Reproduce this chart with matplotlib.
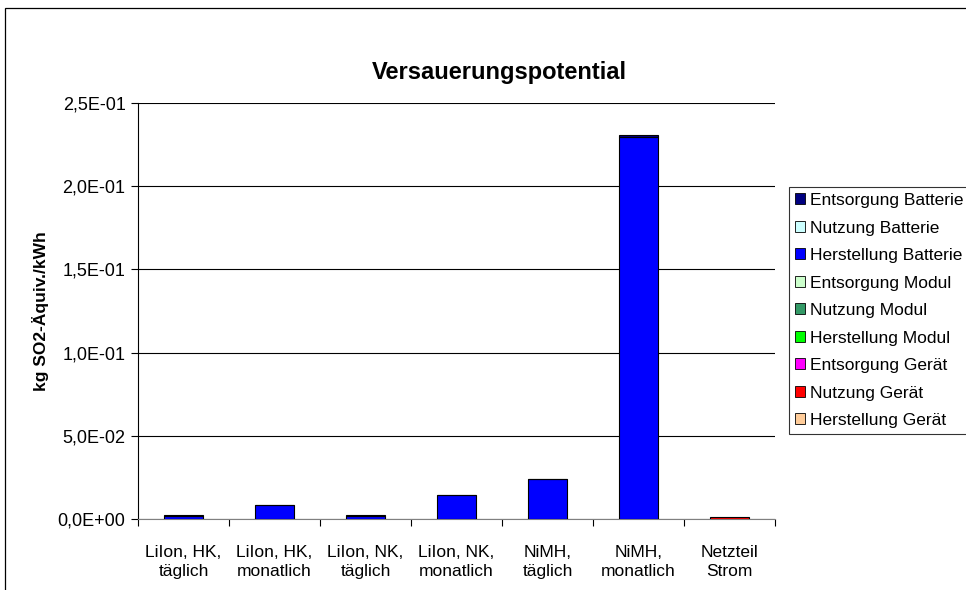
import matplotlib
matplotlib.use("Agg")
import matplotlib.pyplot as plt
from matplotlib.patches import Patch, Rectangle
from matplotlib.ticker import FuncFormatter, FixedLocator
import numpy as np

plt.rcParams['font.family'] = ['Liberation Sans', 'DejaVu Sans']

categories = ["LiIon, HK,\ntäglich", "LiIon, HK,\nmonatlich", "LiIon, NK,\ntäglich",
              "LiIon, NK,\nmonatlich", "NiMH,\ntäglich", "NiMH,\nmonatlich", "Netzteil\nStrom"]

# stacked bottom -> top
herstellung_geraet = [0, 0, 0, 0, 0, 0, 0]
nutzung_geraet = [0, 0, 0, 0, 0, 0, 0.0015]
entsorgung_geraet = [0, 0, 0, 0, 0, 0, 0]
herstellung_modul = [0, 0, 0, 0, 0, 0, 0]
nutzung_modul = [0, 0, 0, 0, 0, 0, 0]
entsorgung_modul = [0, 0, 0, 0, 0, 0, 0]
herstellung_batterie = [0.0020, 0.0082, 0.0020, 0.0142, 0.0238, 0.2295, 0]
nutzung_batterie = [0, 0, 0, 0, 0, 0, 0]
entsorgung_batterie = [0.0003, 0.0001, 0.0003, 0.0002, 0.0002, 0.0012, 0]

series = [
    ("Herstellung Gerät", herstellung_geraet, "#FFCC99"),
    ("Nutzung Gerät", nutzung_geraet, "#FF0000"),
    ("Entsorgung Gerät", entsorgung_geraet, "#FF00FF"),
    ("Herstellung Modul", herstellung_modul, "#00FF00"),
    ("Nutzung Modul", nutzung_modul, "#339966"),
    ("Entsorgung Modul", entsorgung_modul, "#CCFFCC"),
    ("Herstellung Batterie", herstellung_batterie, "#0000FF"),
    ("Nutzung Batterie", nutzung_batterie, "#CCFFFF"),
    ("Entsorgung Batterie", entsorgung_batterie, "#000080"),
]

fig = plt.figure(figsize=(9.66, 5.9), dpi=100)
ax = fig.add_axes([138 / 966, 1 - 519 / 590, (775 - 138) / 966, (519 - 103) / 590])

x = np.arange(len(categories))
bottom = np.zeros(len(categories))
for name, vals, color in series:
    vals = np.array(vals, dtype=float)
    mask = vals > 0
    ax.bar(x[mask], vals[mask], bottom=bottom[mask], width=0.42, color=color,
           edgecolor="black", linewidth=0.8, zorder=3)
    bottom += vals

ax.set_xlim(-0.5, len(categories) - 0.5)
ax.set_ylim(0, 0.25)
ax.set_yticks(np.arange(0, 0.2501, 0.05))
ax.yaxis.set_major_formatter(FuncFormatter(lambda v, p: f"{v:.1E}".replace(".", ",")))
ax.yaxis.grid(True, color="black", linewidth=0.8)
ax.set_axisbelow(True)

ax.xaxis.set_major_locator(FixedLocator(np.arange(-0.5, len(categories), 1.0)))
ax.xaxis.set_minor_locator(FixedLocator(x))
ax.set_xticklabels([])
ax.set_xticklabels(categories, minor=True, linespacing=1.3)
ax.tick_params(axis="x", which="minor", length=0, pad=19, labelsize=12.5)
ax.tick_params(axis="x", which="major", length=5, width=0.8, color="black")
ax.tick_params(axis="y", length=5, width=0.8, labelsize=13, pad=4)

for s in ["top", "right"]:
    ax.spines[s].set_visible(False)
ax.spines["left"].set_color("black")
ax.spines["bottom"].set_color("#808080")
ax.spines["left"].set_linewidth(0.8)
ax.spines["bottom"].set_linewidth(0.8)

ax.set_ylabel("kg SO2-Äquiv./kWh", fontsize=12.5, fontweight="bold", labelpad=6)
fig.text(499 / 966, 1 - 73 / 590, "Versauerungspotential", ha="center", va="center",
         fontsize=17, fontweight="bold")

handles = [Patch(facecolor=c, edgecolor="black", linewidth=0.6, label=n) for n, _, c in series[::-1]]
leg = fig.legend(handles=handles, loc="upper left", bbox_to_anchor=(789 / 966, 1 - 187 / 590),
                 fontsize=12.5, frameon=True, fancybox=False, edgecolor="black",
                 handlelength=0.6, handleheight=0.6, handletextpad=0.25,
                 labelspacing=0.72, borderpad=0.35, borderaxespad=0)
leg.get_frame().set_linewidth(0.8)

# outer chart border (extends past image edge)
fig.patches.append(Rectangle((5 / 966, -0.1), 1.2, 1 - 8 / 590 + 0.1, transform=fig.transFigure,
                             fill=False, edgecolor="black", linewidth=0.9))

fig.savefig("out.png", dpi=100)
